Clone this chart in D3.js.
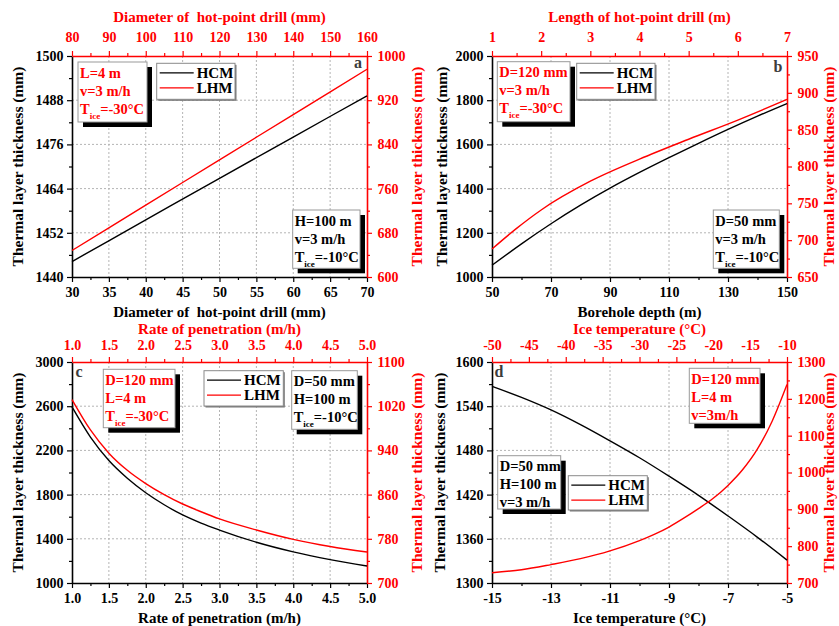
<!DOCTYPE html>
<html>
<head>
<meta charset="utf-8">
<script src="https://cdn.jsdelivr.net/npm/d3@7"></script>
<style>
  body { margin: 0; background: #fff; }
  svg text { font-family: "Liberation Serif", "Times New Roman", serif; font-weight: bold; }
</style>
</head>
<body>
<svg id="chart" width="839" height="626"></svg>
<script>
// ---- (a) thermal layer vs. drill diameter ----
const diamHcmX = [30, 40, 50, 60, 70];            // mm, bottom axis
const diamHcm  = [1444.2, 1455.5, 1466.8, 1478.0, 1489.2];
const diamLhmX = [80, 100, 120, 140, 160];         // mm, top axis
const diamLhm  = [648, 730, 812, 894, 976];

// ---- (b) thermal layer vs. borehole depth / drill length ----
const depthX   = [50, 60, 70, 80, 90, 100, 110, 120, 130, 140, 150];
const depthHcm = [1053, 1150, 1241, 1325, 1402, 1473, 1540, 1605, 1668, 1728, 1785];
const lengthX   = [1, 1.5, 2, 3, 4, 5, 6, 7];
const lengthLhm = [688, 716, 741, 780, 810, 837, 863, 891];

// ---- (c) thermal layer vs. rate of penetration ----
const rateX   = [1.0, 1.25, 1.5, 1.75, 2.0, 2.25, 2.5, 2.75, 3.0, 3.5, 4.0, 4.5, 5.0];
const rateHcm = [2593, 2320, 2108, 1948, 1817, 1708, 1616, 1542, 1479, 1369, 1282, 1212, 1154];
const rateLhm = [1032, 977, 935, 904, 880, 860, 843, 829, 816, 796, 779, 766, 756];

// ---- (d) thermal layer vs. ice temperature ----
const iceHcmX = [-15, -14, -13, -12, -11, -10, -9, -8, -7, -6, -5];
const iceHcm  = [1567, 1552, 1535, 1515, 1493, 1470, 1445, 1419, 1391, 1362, 1331];
const iceLhmX = [-50, -46, -42, -38, -34, -30, -28, -26, -24, -22, -20, -18, -16, -14, -12, -10];
const iceLhm  = [728, 736, 750, 766, 787, 815, 832, 852, 876, 902, 930, 965, 1008, 1064, 1140, 1239];

// ---- axis ticks ----
const aBottomTicks = [30, 35, 40, 45, 50, 55, 60, 65, 70];
const aTopTicks    = [80, 90, 100, 110, 120, 130, 140, 150, 160];
const aLeftTicks   = [1440, 1452, 1464, 1476, 1488, 1500];
const aRightTicks  = [600, 680, 760, 840, 920, 1000];

const bBottomTicks = [50, 70, 90, 110, 130, 150];
const bTopTicks    = [1, 2, 3, 4, 5, 6, 7];
const bLeftTicks   = [1000, 1200, 1400, 1600, 1800, 2000];
const bRightTicks  = [650, 700, 750, 800, 850, 900, 950];

const cBottomTicks = [1.0, 1.5, 2.0, 2.5, 3.0, 3.5, 4.0, 4.5, 5.0];
const cTopTicks    = [1.0, 1.5, 2.0, 2.5, 3.0, 3.5, 4.0, 4.5, 5.0];
const cLeftTicks   = [1000, 1400, 1800, 2200, 2600, 3000];
const cRightTicks  = [700, 780, 860, 940, 1020, 1100];

const dBottomTicks = [-15, -13, -11, -9, -7, -5];
const dTopTicks    = [-50, -45, -40, -35, -30, -25, -20, -15, -10];
const dLeftTicks   = [1300, 1360, 1420, 1480, 1540, 1600];
const dRightTicks  = [700, 800, 900, 1000, 1100, 1200, 1300];

const seriesNames = ["HCM", "LHM"];
const thickTitle = "Thermal layer thickness (mm)";

const RED = "#ff0000", BLACK = "#000000";
const svg = d3.select("#chart");

// minor ticks halfway between consecutive majors
function halfSteps(ticks) {
  const out = [];
  for (let i = 0; i < ticks.length - 1; i++) out.push((ticks[i] + ticks[i + 1]) / 2);
  return out;
}

function noteLines(g, x, y, lines, color) {
  lines.forEach((ln, i) => {
    const t = g.append("text").attr("x", x + 2).attr("y", y + 15.5 + i * 18)
      .attr("fill", color).attr("font-size", 14.5);
    if (typeof ln === "string") {
      t.text(ln);
    } else {
      t.append("tspan").text("T");
      t.append("tspan").attr("font-size", 9).attr("dy", 5).text("ice");
      t.append("tspan").attr("dy", -5).text(ln.rest);
    }
  });
}

function drawPanel(p) {
  const g = svg.append("g");
  const xB = d3.scaleLinear().domain(p.bottom.domain).range([p.x0, p.x1]);
  const xT = d3.scaleLinear().domain(p.top.domain).range([p.x0, p.x1]);
  const yL = d3.scaleLinear().domain(p.left.domain).range([p.y1, p.y0]);
  const yR = d3.scaleLinear().domain(p.right.domain).range([p.y1, p.y0]);

  // dotted grid at inner major ticks
  const grid = g.append("g").attr("stroke", "#b4b4b4").attr("stroke-width", 1)
    .attr("stroke-dasharray", "2,2");
  p.bottom.ticks.slice(1, -1).forEach(v => grid.append("line")
    .attr("x1", xB(v)).attr("x2", xB(v)).attr("y1", p.y0).attr("y2", p.y1));
  p.left.ticks.slice(1, -1).forEach(v => grid.append("line")
    .attr("y1", yL(v)).attr("y2", yL(v)).attr("x1", p.x0).attr("x2", p.x1));

  const plain = d => String(d);

  function axis(gen, scale, ticks, transform, color, pad, fmt) {
    const ax = g.append("g").attr("transform", transform).attr("color", color);
    ax.call(gen(scale).tickValues(halfSteps(ticks)).tickSize(3).tickSizeOuter(0).tickFormat(""));
    ax.select(".domain").remove();
    const mj = g.append("g").attr("transform", transform).attr("color", color);
    mj.call(gen(scale).tickValues(ticks).tickSize(5).tickSizeOuter(0).tickPadding(pad).tickFormat(fmt));
    mj.select(".domain").attr("stroke-width", 1.6);
    mj.selectAll("text").attr("font-size", 14)
      .attr("font-family", "Liberation Serif, serif").attr("font-weight", "bold");
    g.selectAll(".tick line").attr("stroke-width", 1.2);
    return mj;
  }
  const xf = p.xfmt || plain;
  axis(d3.axisBottom, xB, p.bottom.ticks, `translate(0,${p.y1})`, BLACK, 5, xf);
  axis(d3.axisLeft, yL, p.left.ticks, `translate(${p.x0},0)`, BLACK, 3.5, plain);
  axis(d3.axisTop, xT, p.top.ticks, `translate(0,${p.y0})`, RED, p.topPad, xf);
  axis(d3.axisRight, yR, p.right.ticks, `translate(${p.x1},0)`, RED, 5.5, plain);

  // axis titles
  const cx = (p.x0 + p.x1) / 2, cy = (p.y0 + p.y1) / 2;
  g.append("text").attr("x", cx).attr("y", p.y1 + 39.5).attr("text-anchor", "middle")
    .attr("font-size", 15).attr("fill", BLACK).style("white-space", "pre").text(p.bottom.title);
  g.append("text").attr("x", cx).attr("y", p.y0 - p.topTitleGap).attr("text-anchor", "middle")
    .attr("font-size", 15).attr("fill", RED).style("white-space", "pre").text(p.top.title);
  g.append("text").attr("transform", `translate(${p.leftTitleX},${cy}) rotate(-90)`)
    .attr("text-anchor", "middle").attr("dy", "0.35em").attr("font-size", 15.5)
    .attr("fill", BLACK).text(thickTitle);
  g.append("text").attr("transform", `translate(${p.rightTitleX},${cy}) rotate(-90)`)
    .attr("text-anchor", "middle").attr("dy", "0.35em").attr("font-size", 15.5)
    .attr("fill", RED).text(thickTitle);

  // curves
  const line = (xs, ys, sx, sy) => d3.line().curve(d3.curveMonotoneX)
    .x((d, i) => sx(xs[i])).y(d => sy(d))(ys);
  g.append("path").attr("d", line(p.hcm.x, p.hcm.y, xB, yL))
    .attr("fill", "none").attr("stroke", BLACK).attr("stroke-width", 1.4);
  g.append("path").attr("d", line(p.lhm.x, p.lhm.y, xT, yR))
    .attr("fill", "none").attr("stroke", RED).attr("stroke-width", 1.4);

  // panel letter
  g.append("text").attr("x", p.letter.x).attr("y", p.letter.y).attr("text-anchor", "middle")
    .attr("font-family", "Liberation Sans, Arial, sans-serif").attr("font-size", 16)
    .attr("fill", "#3c3c3c").text(p.letter.t);

  // legend
  const L = p.legend;
  g.append("rect").attr("x", L.x + 1.5).attr("y", L.y + 1.5).attr("width", L.w).attr("height", L.h)
    .attr("fill", "#777");
  g.append("rect").attr("x", L.x).attr("y", L.y).attr("width", L.w).attr("height", L.h)
    .attr("fill", "#fff").attr("stroke", "#8a8a8a").attr("stroke-width", 1);
  seriesNames.forEach((name, i) => {
    const yy = L.y + 9.5 + i * 15;
    g.append("line").attr("x1", L.x + 3).attr("x2", L.x + 37).attr("y1", yy).attr("y2", yy)
      .attr("stroke", i ? RED : BLACK).attr("stroke-width", 1.3);
    g.append("text").attr("x", L.x + 40).attr("y", yy + 5).attr("font-size", 15)
      .attr("fill", BLACK).text(name);
  });

  // condition boxes with drop shadow
  p.notes.forEach(n => {
    g.append("rect").attr("x", n.x + 5).attr("y", n.y + 5).attr("width", n.w).attr("height", n.h)
      .attr("fill", "#000");
    g.append("rect").attr("x", n.x).attr("y", n.y).attr("width", n.w).attr("height", n.h)
      .attr("fill", "#fff").attr("stroke", "#9a9a9a").attr("stroke-width", 1);
    noteLines(g, n.x, n.y, n.lines, n.color);
  });
}

drawPanel({
  x0: 72, x1: 367, y0: 56, y1: 277, leftTitleX: 18, rightTitleX: 417,
  topPad: 9, topTitleGap: 34,
  bottom: { domain: [30, 70], ticks: aBottomTicks, title: "Diameter of  hot-point drill (mm)" },
  top: { domain: [80, 160], ticks: aTopTicks, title: "Diameter of  hot-point drill (mm)" },
  left: { domain: [1440, 1500], ticks: aLeftTicks },
  right: { domain: [600, 1000], ticks: aRightTicks },
  hcm: { x: diamHcmX, y: diamHcm }, lhm: { x: diamLhmX, y: diamLhm },
  letter: { t: "a", x: 358, y: 68 },
  legend: { x: 156.7, y: 63.3, w: 78.3, h: 36 },
  notes: [
    { x: 78, y: 62, w: 69, h: 60, color: RED, lines: ["L=4 m", "v=3 m/h", { rest: "=-30°C" }] },
    { x: 292.7, y: 210, w: 67.3, h: 58.3, color: BLACK, lines: ["H=100 m", "v=3 m/h", { rest: "=-10°C" }] }
  ]
});

drawPanel({
  x0: 492, x1: 787, y0: 56, y1: 277, leftTitleX: 442, rightTitleX: 829,
  topPad: 9, topTitleGap: 34,
  bottom: { domain: [50, 150], ticks: bBottomTicks, title: "Borehole depth (m)" },
  top: { domain: [1, 7], ticks: bTopTicks, title: "Length of hot-point drill (m)" },
  left: { domain: [1000, 2000], ticks: bLeftTicks },
  right: { domain: [650, 950], ticks: bRightTicks },
  hcm: { x: depthX, y: depthHcm }, lhm: { x: lengthX, y: lengthLhm },
  letter: { t: "b", x: 778, y: 72 },
  legend: { x: 576.7, y: 63.3, w: 78.3, h: 36 },
  notes: [
    { x: 497.3, y: 61.7, w: 72.7, h: 60, color: RED, lines: ["D=120 mm", "v=3 m/h", { rest: "=-30°C" }] },
    { x: 713.3, y: 210, w: 66, h: 58.3, color: BLACK, lines: ["D=50 mm", "v=3 m/h", { rest: "=-10°C" }] }
  ]
});

drawPanel({
  x0: 72, x1: 367, y0: 362, y1: 583, leftTitleX: 18, rightTitleX: 417,
  topPad: 7.5, topTitleGap: 28,
  xfmt: d => d.toFixed(1),
  bottom: { domain: [1, 5], ticks: cBottomTicks, title: "Rate of penetration (m/h)" },
  top: { domain: [1, 5], ticks: cTopTicks, title: "Rate of penetration (m/h)" },
  left: { domain: [1000, 3000], ticks: cLeftTicks },
  right: { domain: [700, 1100], ticks: cRightTicks },
  hcm: { x: rateX, y: rateHcm }, lhm: { x: rateX, y: rateLhm },
  letter: { t: "c", x: 79, y: 377 },
  legend: { x: 204, y: 370.7, w: 79.3, h: 35.3 },
  notes: [
    { x: 103.3, y: 369.3, w: 71.7, h: 58.4, color: RED, lines: ["D=120 mm", "L=4 m", { rest: "=-30°C" }] },
    { x: 291.7, y: 370.7, w: 65.6, h: 58.6, color: BLACK, lines: ["D=50 mm", "H=100 m", { rest: "=-10°C" }] }
  ]
});

drawPanel({
  x0: 492, x1: 787, y0: 362, y1: 583, leftTitleX: 440, rightTitleX: 829,
  topPad: 7.5, topTitleGap: 28,
  bottom: { domain: [-15, -5], ticks: dBottomTicks, title: "Ice temperature (°C)" },
  top: { domain: [-50, -10], ticks: dTopTicks, title: "Ice temperature (°C)" },
  left: { domain: [1300, 1600], ticks: dLeftTicks },
  right: { domain: [700, 1300], ticks: dRightTicks },
  hcm: { x: iceHcmX, y: iceHcm }, lhm: { x: iceLhmX, y: iceLhm },
  letter: { t: "d", x: 499, y: 377 },
  legend: { x: 568.3, y: 475.7, w: 79, h: 34.3 },
  notes: [
    { x: 689.3, y: 368.3, w: 70.7, h: 55, color: RED, lines: ["D=120 mm", "L=4 m", "v=3m/h"] },
    { x: 497.7, y: 455.7, w: 63, h: 53.3, color: BLACK, lines: ["D=50 mm", "H=100 m", "v=3 m/h"] }
  ]
});
</script>
</body>
</html>
